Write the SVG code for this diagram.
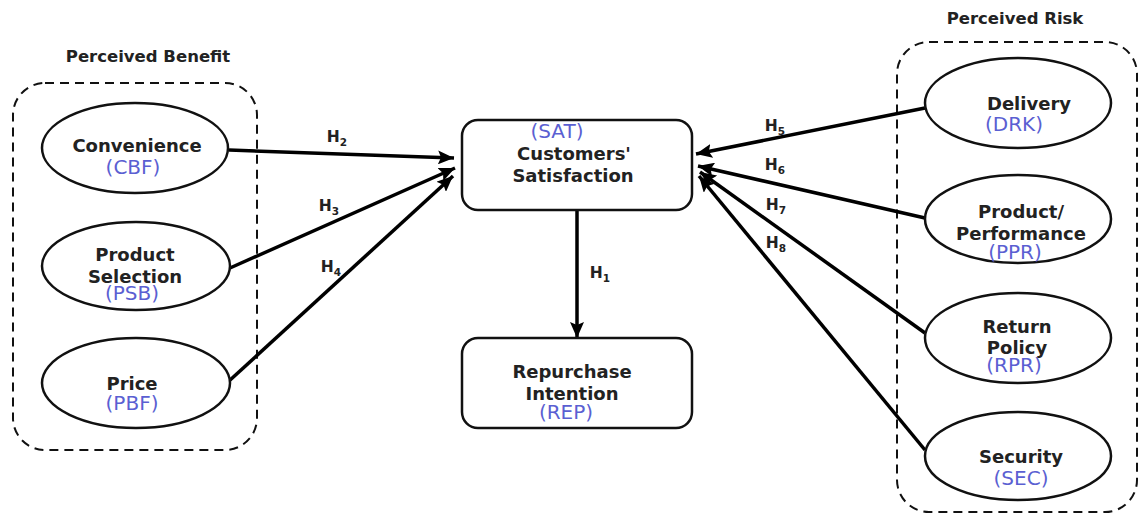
<svg xmlns="http://www.w3.org/2000/svg" width="1140" height="515" viewBox="0 0 1140 515">
<style>
text{font-family:"DejaVu Sans","Liberation Sans",sans-serif;font-weight:bold;font-size:18px;fill:#222;text-anchor:middle}
.b{fill:#5b5fd2;font-size:20px;font-weight:normal}
.t{font-size:16.5px}
.h{font-size:15.5px}
.s{font-size:10.5px}
.grp{fill:none;stroke:#111;stroke-width:2;stroke-dasharray:9 6}
.el{fill:#fff;stroke:#111;stroke-width:2.5}
.bx{fill:#fff;stroke:#111;stroke-width:2.5}
.c{stroke:#000;stroke-width:3.5;fill:none;marker-end:url(#ah)}
</style>
<defs>
<marker id="ah" markerUnits="userSpaceOnUse" markerWidth="18" markerHeight="14" refX="16" refY="7" orient="auto">
<path d="M0,0 L16,7 L0,14 L3,7 Z" fill="#000"/>
</marker>
</defs>
<rect width="1140" height="515" fill="#fff"/>
<g id="group-benefit">
<rect class="grp" x="13" y="83" width="244" height="367" rx="32"/>
<text class="t" x="148" y="62">Perceived Benefit</text>
</g>
<g id="group-risk">
<rect class="grp" x="897" y="42" width="240" height="470" rx="32"/>
<text class="t" x="1015" y="24">Perceived Risk</text>
</g>
<g id="connectors">
<line class="c" x1="229" y1="150" x2="454" y2="158"/>
<line class="c" x1="230" y1="268" x2="455" y2="168"/>
<line class="c" x1="229" y1="381" x2="453" y2="176"/>
<line class="c" x1="577" y1="211" x2="577" y2="338"/>
<line class="c" x1="925" y1="108" x2="696" y2="154"/>
<line class="c" x1="925" y1="218" x2="698" y2="166"/>
<line class="c" x1="925" y1="333" x2="700" y2="172"/>
<line class="c" x1="925" y1="450" x2="699" y2="176"/>
<text class="h" x="337" y="142">H<tspan class="s" dy="4">2</tspan></text>
<text class="h" x="329" y="211">H<tspan class="s" dy="4">3</tspan></text>
<text class="h" x="331" y="272">H<tspan class="s" dy="4">4</tspan></text>
<text class="h" x="600" y="278">H<tspan class="s" dy="4">1</tspan></text>
<text class="h" x="775" y="131">H<tspan class="s" dy="4">5</tspan></text>
<text class="h" x="775" y="170">H<tspan class="s" dy="4">6</tspan></text>
<text class="h" x="776" y="210">H<tspan class="s" dy="4">7</tspan></text>
<text class="h" x="776" y="248">H<tspan class="s" dy="4">8</tspan></text>
</g>
<g id="node-cbf">
<ellipse class="el" cx="135" cy="148" rx="93" ry="45"/>
<text x="137" y="152">Convenience</text>
<text class="b" x="133" y="174">(CBF)</text>
</g>
<g id="node-psb">
<ellipse class="el" cx="136" cy="266" rx="94" ry="44"/>
<text x="135" y="261">Product</text>
<text x="135" y="283">Selection</text>
<text class="b" x="132" y="300">(PSB)</text>
</g>
<g id="node-pbf">
<ellipse class="el" cx="136" cy="383" rx="94" ry="45"/>
<text x="132" y="390">Price</text>
<text class="b" x="132" y="410">(PBF)</text>
</g>
<g id="node-sat">
<rect class="bx" x="462" y="120" width="230" height="90" rx="16"/>
<text class="b" x="557" y="138">(SAT)</text>
<text x="574" y="160">Customers'</text>
<text x="573" y="182">Satisfaction</text>
</g>
<g id="node-rep">
<rect class="bx" x="462" y="338" width="230" height="90" rx="16"/>
<text x="572" y="378">Repurchase</text>
<text x="572" y="400">Intention</text>
<text class="b" x="566" y="419">(REP)</text>
</g>
<g id="node-drk">
<ellipse class="el" cx="1018" cy="103" rx="93" ry="45"/>
<text x="1029" y="110">Delivery</text>
<text class="b" x="1014" y="131">(DRK)</text>
</g>
<g id="node-ppr">
<ellipse class="el" cx="1018" cy="219" rx="93" ry="44"/>
<text x="1021" y="218">Product/</text>
<text x="1021" y="240">Performance</text>
<text class="b" x="1015" y="259">(PPR)</text>
</g>
<g id="node-rpr">
<ellipse class="el" cx="1018" cy="338" rx="93" ry="45"/>
<text x="1017" y="333">Return</text>
<text x="1017" y="354">Policy</text>
<text class="b" x="1014" y="372">(RPR)</text>
</g>
<g id="node-sec">
<ellipse class="el" cx="1018" cy="456" rx="93" ry="44"/>
<text x="1021" y="463">Security</text>
<text class="b" x="1021" y="485">(SEC)</text>
</g>
</svg>
